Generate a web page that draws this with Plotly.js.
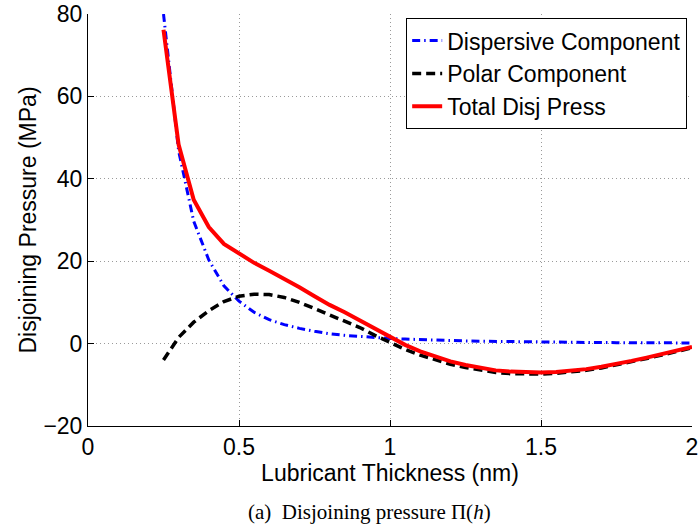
<!DOCTYPE html>
<html>
<head>
<meta charset="utf-8">
<script src="https://cdn.plot.ly/plotly-3.0.1.min.js"></script>
<style>html,body{margin:0;padding:0;background:#fff;}#chart{width:699px;height:525px;}</style>
</head>
<body>
<div id="chart"></div>
<script>
// Lubricant thickness h (nm)
const thickness = [0.25,0.30,0.35,0.40,0.45,0.50,0.55,0.60,0.65,0.70,0.75,0.80,0.85,0.90,0.95,1.00,
  1.05,1.10,1.15,1.20,1.25,1.30,1.35,1.40,1.45,1.50,1.55,1.60,1.65,1.70,1.75,1.80,1.85,1.90,1.95,2.00];
// Dispersive component (MPa)
const dispersive = [80,46.8,29.7,20.3,14.0,10.3,7.6,5.8,4.6,3.7,3.0,2.4,2.0,1.7,1.5,1.25,
  1.1,0.94,0.82,0.72,0.64,0.57,0.51,0.46,0.41,0.37,0.34,0.31,0.28,0.25,0.23,0.21,0.20,0.18,0.17,0.16];
// Polar component (MPa)
const polar = [-4.0,1.5,5.2,8.0,10.2,11.5,12.0,11.9,11.2,10.0,8.5,7.0,5.6,3.9,2.0,0.2,
  -1.4,-2.8,-4.0,-5.0,-5.8,-6.5,-7.0,-7.3,-7.4,-7.4,-7.2,-6.9,-6.5,-5.9,-5.2,-4.4,-3.6,-2.8,-1.9,-1.0];
// Total disjoining pressure (MPa)
const total = [76.2,48.3,34.9,28.3,24.2,21.8,19.6,17.7,15.8,13.7,11.5,9.4,7.6,5.6,3.5,1.45,
  -0.3,-1.9,-3.2,-4.3,-5.2,-5.9,-6.5,-6.8,-7.0,-7.0,-6.9,-6.6,-6.2,-5.6,-5.0,-4.2,-3.4,-2.6,-1.7,-0.84];
const seriesNames = ["Dispersive Component","Polar Component","Total Disj Press"];
const xTickVals = [0,0.5,1,1.5,2];
const xTickText = ["0","0.5","1","1.5","2"];
const yTickVals = [-20,0,20,40,60,80];

const font = "Liberation Sans, Arial, Helvetica, sans-serif";

const traces = [
  {x: thickness, y: dispersive, name: seriesNames[0], mode: "lines",
   line: {color: "#0000ff", width: 3, dash: "8px,4px,1.5px,4px"}},
  {x: thickness, y: polar, name: seriesNames[1], mode: "lines",
   line: {color: "#000000", width: 3.5, dash: "9px,5px"}},
  {x: thickness, y: total, name: seriesNames[2], mode: "lines",
   line: {color: "#ff0000", width: 4}}
];

const axisCommon = {
  showline: true, linecolor: "#000", linewidth: 1,
  ticks: "inside", ticklen: 6, tickcolor: "#000", tickwidth: 1,
  showgrid: true, gridcolor: "#9a9a9a", gridwidth: 1, griddash: "1px,3px",
  zeroline: false, mirror: false,
  tickfont: {family: font, size: 23, color: "#000"}
};

const layout = {
  width: 699, height: 525,
  margin: {l: 88, r: 7, t: 14, b: 99},
  paper_bgcolor: "#fff", plot_bgcolor: "#fff",
  showlegend: true,
  legend: {x: 0.992, xanchor: "right", y: 0.99, yanchor: "top",
    bordercolor: "#000", borderwidth: 1, bgcolor: "#fff",
    font: {family: font, size: 23, color: "#000"}, tracegroupgap: 0},
  xaxis: Object.assign({}, axisCommon, {
    range: [0, 2], tickvals: xTickVals, ticktext: xTickText,
    title: {text: "Lubricant Thickness (nm)", font: {family: font, size: 23, color: "#000"}, standoff: 0}
  }),
  yaxis: Object.assign({}, axisCommon, {
    range: [-20, 80], tickvals: yTickVals,
    title: {text: "Disjoining Pressure (MPa)", font: {family: font, size: 23, color: "#000"}, standoff: 0}
  }),
  annotations: [{
    xref: "paper", yref: "paper", x: 0.466, y: -0.208, xanchor: "center", yanchor: "middle",
    showarrow: false, text: "(a)  Disjoining pressure Π(<i>h</i>)",
    font: {family: "Liberation Serif, Times New Roman, serif", size: 21, color: "#000"}
  }]
};

Plotly.newPlot("chart", traces, layout, {displayModeBar: false, staticPlot: true});
</script>
</body>
</html>
